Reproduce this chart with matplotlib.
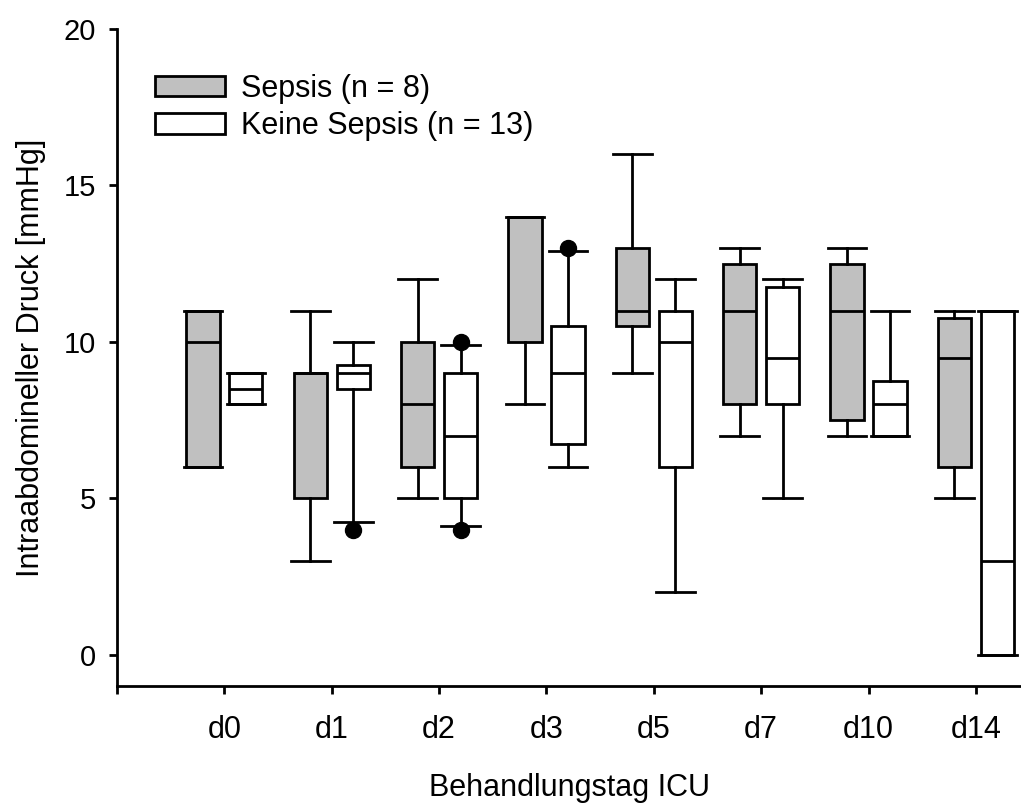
import matplotlib.pyplot as plt
from matplotlib.patches import Patch

plt.rcParams['font.family'] = ['Liberation Sans', 'DejaVu Sans']

days = ['d0', 'd1', 'd2', 'd3', 'd5', 'd7', 'd10', 'd14']

# Sepsis (n = 8): lower whisker, Q1, median, Q3, upper whisker
sep_lo = [6, 3, 5, 8, 9, 7, 7, 5]
sep_q1 = [6, 5, 6, 10, 10.5, 8, 7.5, 6]
sep_med = [10, 9, 8, 14, 11, 11, 11, 9.5]
sep_q3 = [11, 9, 10, 14, 13, 12.5, 12.5, 10.75]
sep_hi = [11, 11, 12, 14, 16, 13, 13, 11]
sep_out = [[], [], [], [], [], [], [], []]

# Keine Sepsis (n = 13)
non_lo = [8, 4.25, 4.1, 6, 2, 5, 7, 0]
non_q1 = [8, 8.5, 5, 6.75, 6, 8, 7, 0]
non_med = [8.5, 9, 7, 9, 10, 9.5, 8, 3]
non_q3 = [9, 9.25, 9, 10.5, 11, 11.75, 8.75, 11]
non_hi = [9, 10, 9.9, 12.9, 12, 12, 11, 11]
non_out = [[], [4], [4, 10], [13], [], [], [], []]


def make_stats(lo, q1, med, q3, hi, out):
    stats = []
    for i in range(len(lo)):
        stats.append(dict(whislo=lo[i], q1=q1[i], med=med[i], q3=q3[i],
                          whishi=hi[i], fliers=out[i]))
    return stats


fig = plt.figure(figsize=(10.21, 8.07), dpi=100)
ax = fig.add_axes([0.1146, 0.150, 0.8854, 0.814])

lw = 2.0
centers = list(range(1, len(days) + 1))
offset = 0.2
groups = [
    (make_stats(sep_lo, sep_q1, sep_med, sep_q3, sep_hi, sep_out), -offset, '#c0c0c0'),
    (make_stats(non_lo, non_q1, non_med, non_q3, non_hi, non_out), offset, 'white'),
]
for stats, off, color in groups:
    ax.bxp(stats, positions=[c + off for c in centers], widths=0.31,
           capwidths=0.36, patch_artist=True, showfliers=True,
           boxprops=dict(facecolor=color, edgecolor='black', linewidth=lw),
           medianprops=dict(color='black', linewidth=lw),
           whiskerprops=dict(color='black', linewidth=lw),
           capprops=dict(color='black', linewidth=lw),
           flierprops=dict(marker='o', markerfacecolor='black',
                           markeredgecolor='black', markersize=11.5))

ax.set_xlim(0, 8.42)
ax.set_ylim(-1, 20)
ax.set_xticks([0] + centers)
ax.set_xticklabels([''] + days, fontsize=22)
ax.set_yticks([0, 5, 10, 15, 20])
ax.set_yticklabels(['0', '5', '10', '15', '20'], fontsize=21)

for side in ['top', 'right']:
    ax.spines[side].set_visible(False)
for side in ['left', 'bottom']:
    ax.spines[side].set_linewidth(lw)
ax.tick_params(axis='both', direction='out', length=6, width=lw)
ax.tick_params(axis='x', pad=15)
ax.tick_params(axis='y', pad=9)

ax.set_xlabel('Behandlungstag ICU', fontsize=22, labelpad=20)
ax.set_ylabel('Intraabdomineller Druck [mmHg]', fontsize=22, labelpad=13)

handles = [Patch(facecolor='#c0c0c0', edgecolor='black', linewidth=lw),
           Patch(facecolor='white', edgecolor='black', linewidth=lw)]
ax.legend(handles, ['Sepsis (n = 8)', 'Keine Sepsis (n = 13)'],
          loc='upper left', bbox_to_anchor=(0.042, 0.932), frameon=False,
          fontsize=22, handlelength=2.3, handleheight=0.65,
          handletextpad=0.5, labelspacing=0.25, borderpad=0, borderaxespad=0)

fig.savefig('out.png', dpi=100)
